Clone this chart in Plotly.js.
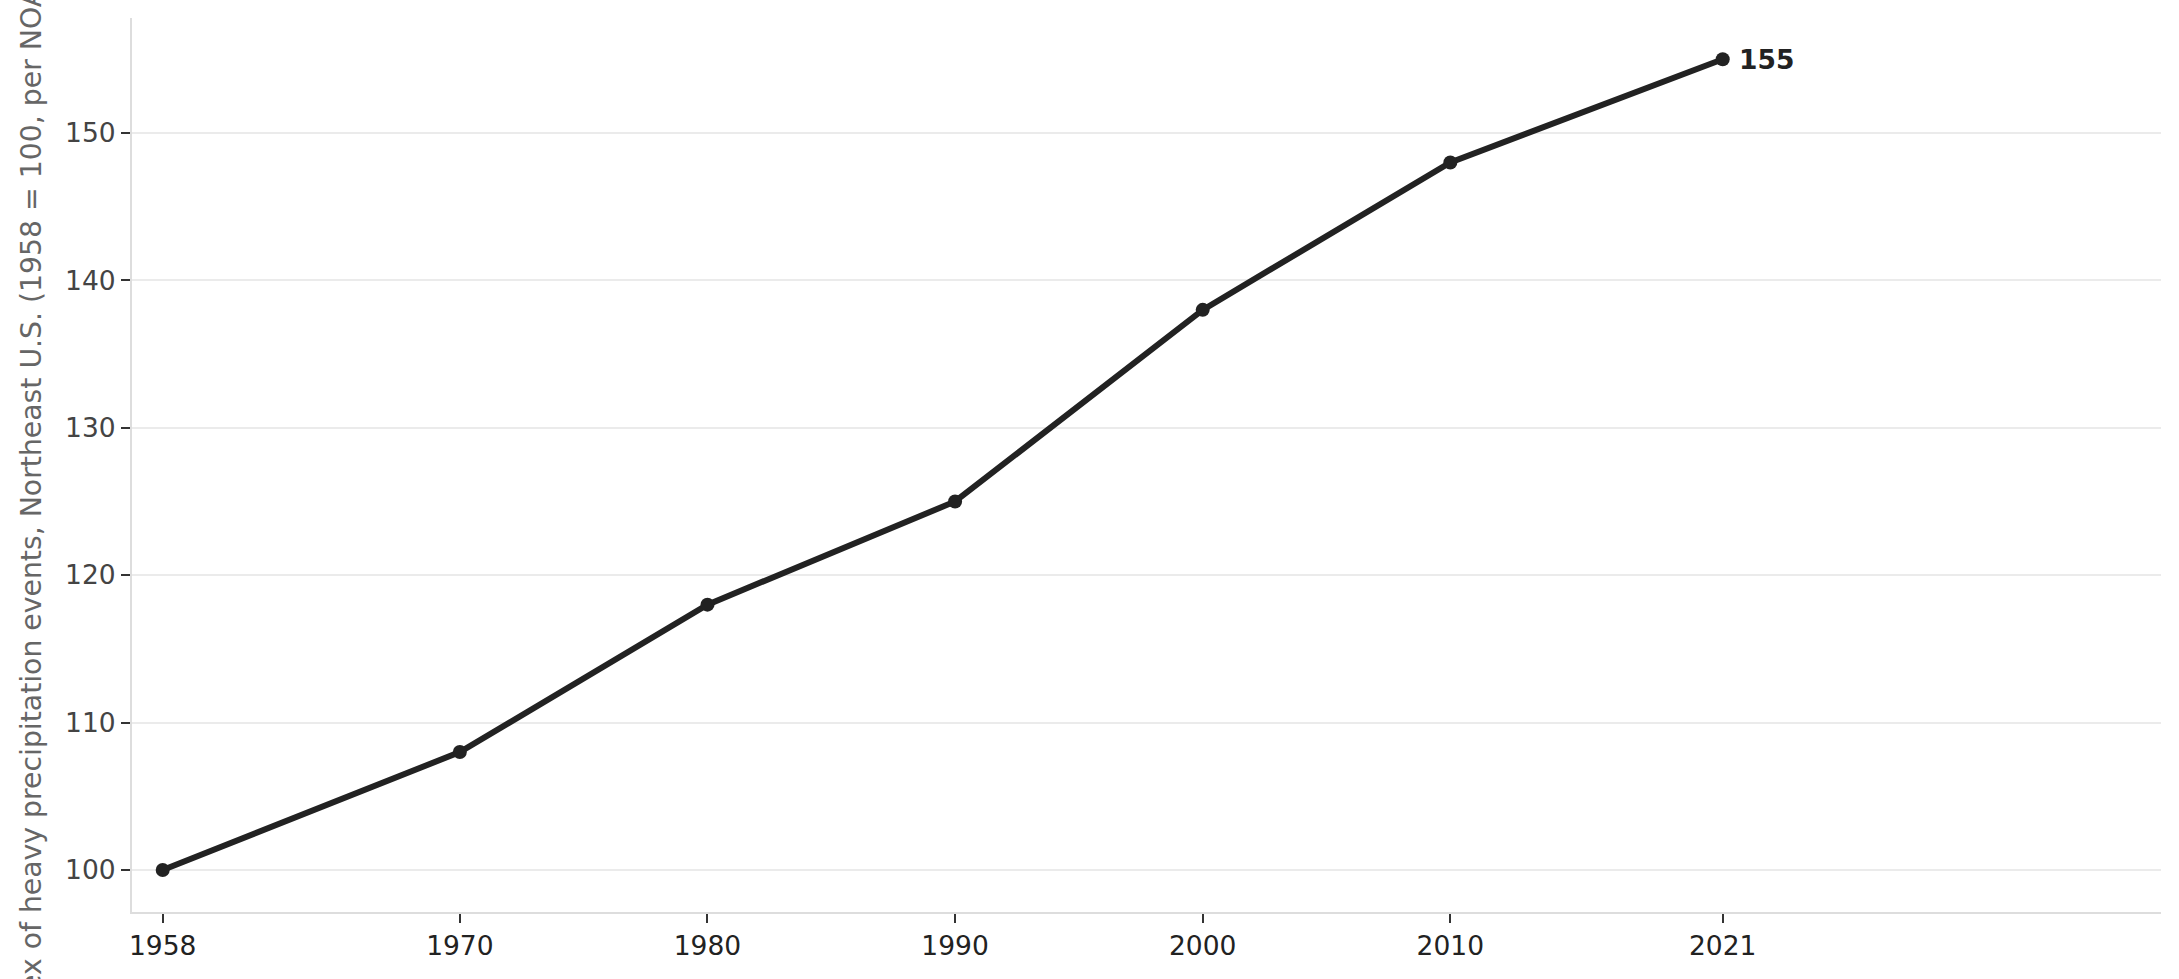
<!DOCTYPE html>
<html>
<head>
<meta charset="utf-8">
<script src="https://cdn.plot.ly/plotly-3.0.1.min.js"></script>
<style>
  html, body { margin: 0; padding: 0; background: #fff; }
</style>
</head>
<body>
<div id="chart" style="width:2179px;height:979px;"></div>
<script>
// heavy precipitation index, Northeast U.S.
var years = [1958, 1970, 1980, 1990, 2000, 2010, 2021];
var index = [100, 108, 118, 125, 138, 148, 155];
var yTicks = [100, 110, 120, 130, 140, 150];
var yLabel = "Index of heavy precipitation events, Northeast U.S. (1958 = 100, per NOAA)";

var lastYear = years[years.length - 1];
var lastVal = index[index.length - 1];

var trace = {
  x: years,
  y: index,
  type: "scatter",
  mode: "lines+markers",
  line: { color: "#222222", width: 6 },
  marker: { color: "#222222", size: 14 },
  hoverinfo: "skip"
};

var layout = {
  width: 2179,
  height: 979,
  margin: { l: 132, r: 18, t: 18, b: 67 },
  paper_bgcolor: "#ffffff",
  plot_bgcolor: "#ffffff",
  showlegend: false,
  font: { family: "DejaVu Sans", size: 26, color: "#333333" },
  xaxis: {
    range: [1956.76, 2038.7],
    tickvals: years,
    ticktext: years.map(String),
    showgrid: false,
    zeroline: false,
    showline: true,
    linecolor: "#dddddd",
    linewidth: 2,
    ticks: "outside",
    ticklen: 9,
    tickwidth: 2,
    tickcolor: "#333333",
    tickfont: { family: "DejaVu Sans", size: 26.5, color: "#222222" }
  },
  yaxis: {
    range: [97.15, 157.8],
    tickvals: yTicks,
    showgrid: true,
    gridcolor: "#ebebeb",
    gridwidth: 2,
    zeroline: false,
    showline: true,
    linecolor: "#dddddd",
    linewidth: 2,
    ticks: "outside",
    ticklen: 9,
    tickwidth: 2,
    tickcolor: "#333333",
    tickfont: { family: "DejaVu Sans", size: 26.5, color: "#444444" }
  },
  annotations: [
    {
      // y axis label, placed by hand so it sits like the original
      x: -0.0498,
      y: 0.465,
      xref: "paper",
      yref: "paper",
      text: yLabel,
      textangle: -90,
      showarrow: false,
      xanchor: "center",
      yanchor: "middle",
      font: { family: "DejaVu Sans", size: 28.3, color: "#666666" }
    },
    {
      x: lastYear,
      y: lastVal,
      xref: "x",
      yref: "y",
      text: "<b>" + lastVal + "</b>",
      showarrow: false,
      xanchor: "left",
      yanchor: "middle",
      xshift: 14,
      font: { family: "DejaVu Sans", size: 26.5, color: "#222222" }
    }
  ]
};

Plotly.newPlot("chart", [trace], layout, { displayModeBar: false, staticPlot: true });
</script>
</body>
</html>
